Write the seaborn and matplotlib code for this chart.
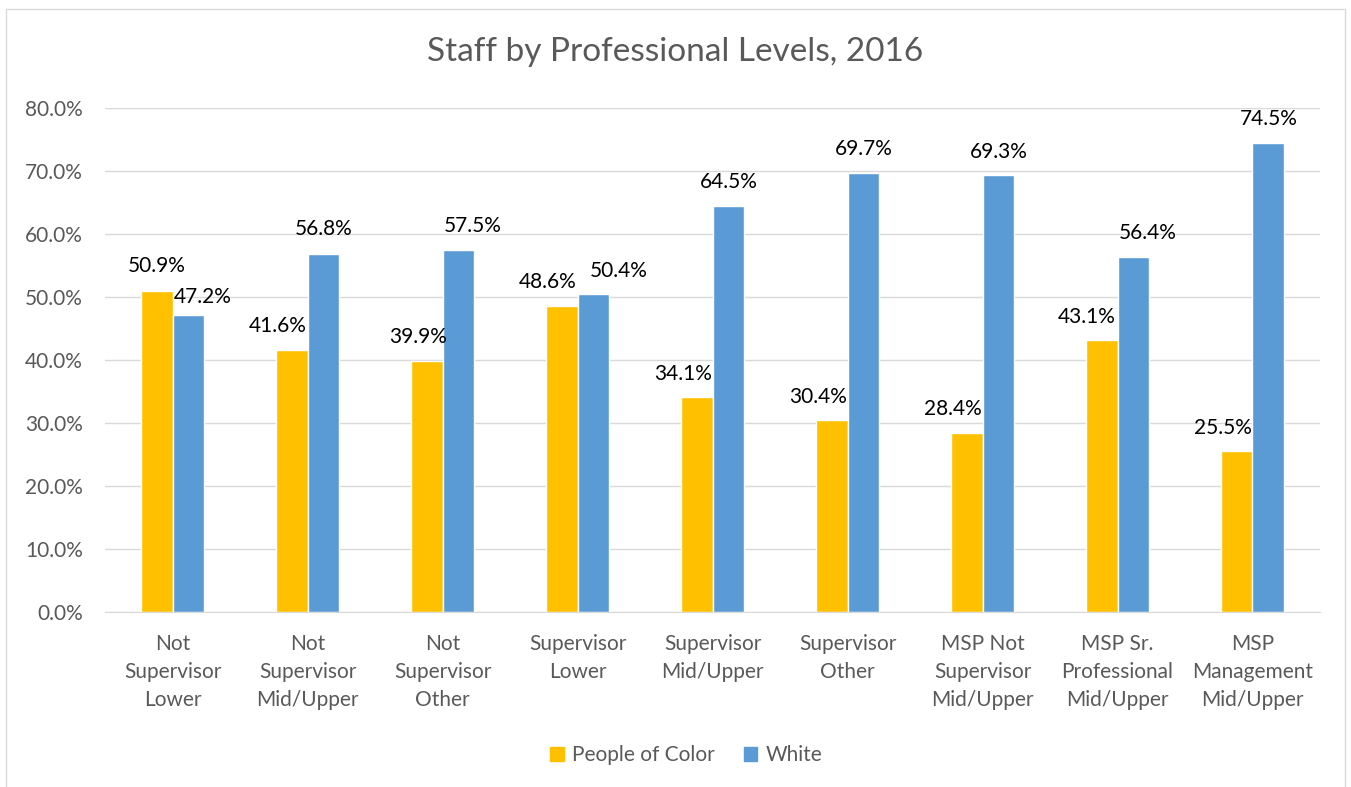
import matplotlib
matplotlib.use("Agg")
import matplotlib.pyplot as plt
import seaborn as sns
import pandas as pd
from matplotlib.patches import Rectangle

# chart data
categories = [
    "Not\nSupervisor\nLower",
    "Not\nSupervisor\nMid/Upper",
    "Not\nSupervisor\nOther",
    "Supervisor\nLower",
    "Supervisor\nMid/Upper",
    "Supervisor\nOther",
    "MSP Not\nSupervisor\nMid/Upper",
    "MSP Sr.\nProfessional\nMid/Upper",
    "MSP\nManagement\nMid/Upper",
]
people_of_color = [50.9, 41.6, 39.9, 48.6, 34.1, 30.4, 28.4, 43.1, 25.5]
white = [47.2, 56.8, 57.5, 50.4, 64.5, 69.7, 69.3, 56.4, 74.5]
series_names = ["People of Color", "White"]
y_ticks = [0, 10, 20, 30, 40, 50, 60, 70, 80]

df = pd.DataFrame({
    "category": categories * 2,
    "series": [series_names[0]] * len(categories) + [series_names[1]] * len(categories),
    "value": people_of_color + white,
})

sns.set_style("white")
plt.rcParams["font.family"] = ["Lato", "DejaVu Sans"]
grey_text = "#595959"
fs = 15

fig = plt.figure(figsize=(13.51, 7.87), dpi=100)
ax = fig.add_axes([105 / 1351, 175 / 787, 1215 / 1351, 504 / 787])

sns.barplot(data=df, x="category", y="value", hue="series",
            palette=["#FFC000", "#5B9BD5"], width=0.474, gap=0,
            saturation=1, ax=ax, legend=True)

ax.set_ylim(0, 80)
ax.set_yticks(y_ticks)
ax.set_yticklabels([f"{t:.1f}%" for t in y_ticks], fontsize=fs, color=grey_text)
ax.tick_params(axis="x", labelsize=fs, labelcolor=grey_text, length=0, pad=16)
ax.tick_params(axis="y", length=0, pad=16)
for lbl in ax.get_xticklabels():
    lbl.set_linespacing(1.5)
ax.set_xlabel("")
ax.set_ylabel("")
ax.yaxis.grid(True, color="#d9d9d9", linewidth=1)
ax.set_axisbelow(True)
for side in ["left", "right", "top"]:
    ax.spines[side].set_visible(False)
ax.spines["bottom"].set_color("#d9d9d9")
ax.set_xlim(-0.5, len(categories) - 0.5)

# data labels (Excel nudges some sideways to avoid overlaps)
label_dx = {0: [0, -10, -6, -10, -10, -10, -10, -11, -10],
            1: [10, 0, 10, 18, 0, 0, 0, 10, 0]}
label_dy = {0: [18, 17, 17, 17, 17, 17, 17, 17, 17],
            1: [13, 18, 17, 17, 17, 17, 17, 17, 17]}
for s, cont in enumerate(ax.containers):
    vals = [people_of_color, white][s]
    for i, bar in enumerate(cont):
        ax.annotate(f"{vals[i]:.1f}%",
                    (bar.get_x() + bar.get_width() / 2, bar.get_height()),
                    xytext=(label_dx[s][i], label_dy[s][i]), textcoords="offset points",
                    ha="center", va="center", fontsize=fs, color="black")

ax.get_legend().remove()
handles = [Rectangle((0, 0), 1, 1, color=c) for c in ["#FFC000", "#5B9BD5"]]
fig.legend(handles, series_names, loc="center", bbox_to_anchor=(0.508, 1 - 755 / 787),
           ncol=2, frameon=False, fontsize=fs, handlelength=0.65, handleheight=0.65,
           handletextpad=0.4, columnspacing=1.4, labelcolor=grey_text)

fig.text(0.5, 1 - 52 / 787, "Staff by Professional Levels, 2016",
         ha="center", va="center", fontsize=24, color=grey_text)

# outer chart border
fig.patches.append(Rectangle((6 / 1351, -0.05), 1339 / 1351, 1.05 - 9 / 787,
                             transform=fig.transFigure, fill=False,
                             edgecolor="#d9d9d9", linewidth=1))

fig.savefig("out.png", dpi=100)
